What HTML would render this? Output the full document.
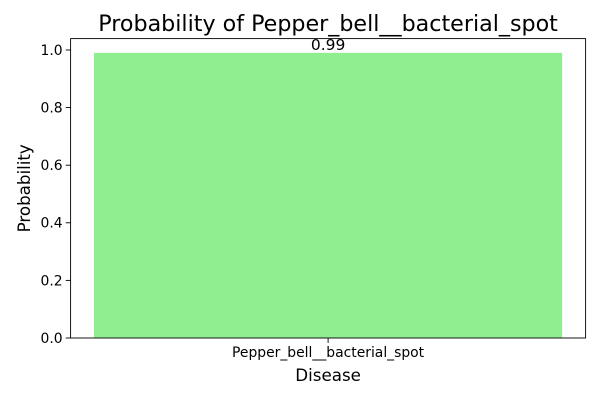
<!DOCTYPE html>
<html><head><meta charset="utf-8"><style>
body{margin:0;background:#fff;}
svg text{font-family:"DejaVu Sans","Liberation Sans",sans-serif;fill:#000;}
</style></head><body>
<svg width="600" height="400" xmlns="http://www.w3.org/2000/svg">
<rect width="600" height="400" fill="#fff"/>
<g id="plot"></g>
</svg>
<script>
const categories=["Pepper_bell__bacterial_spot"];
const values=[0.99];
const yTicks=[0.0,0.2,0.4,0.6,0.8,1.0];
const L=70.6,R=585.6,B=338,T=38.6;
const ymax=Math.max(...values)*1.05;
const ys=v=>B-(v/ymax)*(B-T);
const n=categories.length;
const xmin=-0.44,xmax=n-1+0.44;
const xs=v=>L+(v-xmin)/(xmax-xmin)*(R-L);
const NS="http://www.w3.org/2000/svg";
const g=document.getElementById('plot');
function mk(tag,attrs,text){const e=document.createElementNS(NS,tag);for(const k in attrs)e.setAttribute(k,attrs[k]);if(text!=null)e.textContent=text;g.appendChild(e);return e;}
values.forEach((v,i)=>{
  const b=mk('rect',{x:xs(i-0.4),y:ys(v),width:xs(i+0.4)-xs(i-0.4),height:B-ys(v),fill:'#90ee90'});
  
  
  const t=mk('text',{x:xs(i),y:ys(v)-3,'text-anchor':'middle','font-size':'15.5'},v.toFixed(2));
  
  
  const tk=mk('line',{x1:xs(i),x2:xs(i),y1:B,y2:B+4.9,stroke:'#000','stroke-width':0.9});
  
  
  const tl=mk('text',{x:xs(i),y:B+19,'text-anchor':'middle','font-size':'13.9'},categories[i]);
  
  
});
yTicks.forEach(v=>{
  const tk=mk('line',{x1:L-4.9,x2:L,y1:ys(v),y2:ys(v),stroke:'#000','stroke-width':0.9});
  
  
  const tl=mk('text',{x:L-8,y:ys(v)+4.9,'text-anchor':'end','font-size':'13.9'},v.toFixed(1));
  
  
});
const fr=mk('rect',{x:L,y:T,width:R-L,height:B-T,fill:'none',stroke:'#000','stroke-width':0.9});


const ti=mk('text',{x:(L+R)/2,y:31,'text-anchor':'middle','font-size':'22.2'},'Probability of Pepper_bell__bacterial_spot');


const xl=mk('text',{x:(L+R)/2,y:381,'text-anchor':'middle','font-size':'16.7'},'Disease');


const yl=mk('text',{x:30,y:(T+B)/2,'text-anchor':'middle','font-size':'16.7',transform:'rotate(-90 30 '+((T+B)/2)+')'},'Probability');


</script>
</body></html>
